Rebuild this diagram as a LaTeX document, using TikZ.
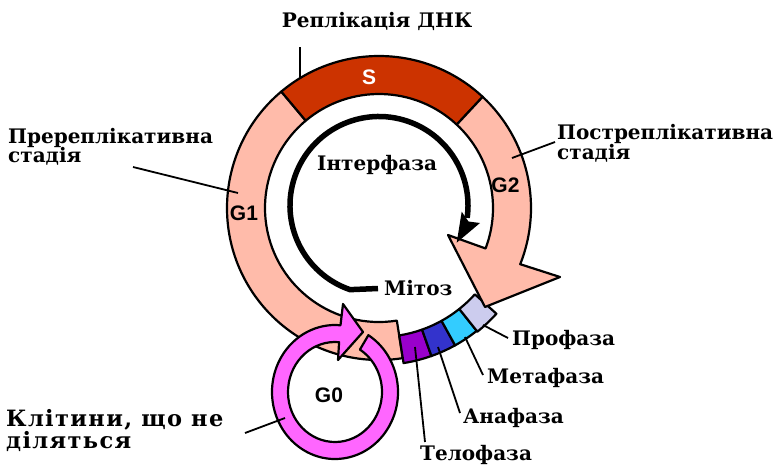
\documentclass[tikz,border=0pt]{standalone}
\usepackage{fontspec}
\setmainfont{DejaVu Serif}
\newfontfamily\gsans{Liberation Sans}
\newfontfamily\widefont[LetterSpace=6]{DejaVu Serif}
\usetikzlibrary{calc}
\definecolor{peach}{HTML}{FFBBAA}
\definecolor{sred}{HTML}{CC3300}
\definecolor{telo}{HTML}{9900CC}
\definecolor{ana}{HTML}{3333CC}
\definecolor{meta}{HTML}{33CCFF}
\definecolor{pro}{HTML}{CCCCEE}
\definecolor{gzero}{HTML}{FF66FF}
\newcommand\ringband[6]{%
  \path[band, fill=#6] ($(#1)+(#2:#5)$) arc[start angle=#2, end angle=#3, radius=#5]
    -- ($(#1)+(#3:#4)$) arc[start angle=#3, end angle=#2, radius=#4] -- cycle;}
\begin{document}
\begin{tikzpicture}[x=1pt,y=1pt,
  band/.style={draw=black, line width=2.2pt, line join=round},
  lbl/.style={font=\fontsize{20}{20}\selectfont\bfseries, inner sep=0pt, anchor=base west},
  widelbl/.style={font=\widefont\fontsize{22.5}{22.5}\selectfont\bfseries, inner sep=0pt, anchor=base west},
  glbl/.style={font=\gsans\fontsize{21}{21}\selectfont\bfseries, inner sep=0pt},
  leader/.style={draw=black, line width=1.8pt}]
\fill[white] (0,0) rectangle (776,-466);
\useasboundingbox (0,0) rectangle (776,-466);
\coordinate (O) at (379,-208);
\coordinate (C2) at (379,-205.5);
\coordinate (G) at (335,-392);
% G1 and S
\ringband{O}{130}{279}{114}{152}{peach}
\ringband{O}{47}{130}{114}{152}{sred}
% mitosis
\ringband{O}{-81}{-70.5}{129}{157}{telo}
\ringband{O}{-70.5}{-61}{129}{157}{ana}
\ringband{O}{-61}{-51.5}{129}{157}{meta}
\ringband{O}{-51.5}{-42}{129}{158}{pro}
% G2 arrow
\path[band, fill=peach] ($(O)+(47:152)$) arc[start angle=47, end angle=-21.7, radius=152]
  -- (560,-277) -- (485,-307) -- (448,-235) -- ($(O)+(-20.8:114)$)
  arc[start angle=-20.8, end angle=47, radius=114] -- cycle;
% G0 ring arrow
\path[band, fill=gzero] ($(G)+({63*cos(58)},{67*sin(58)})$)
  arc[start angle=58, end angle=-275, x radius=63, y radius=67]
  -- (343,-304) -- (363,-332) -- (338,-360) -- ($(G)+({47*cos(85)},{50*sin(85)})$)
  arc[start angle=-275, end angle=58, x radius=47, y radius=50] -- cycle;
% interphase arrow
\draw[line width=5.5pt] (378,-288.5) -- ($(C2)+(251:89)$) arc[start angle=251, end angle=-8, radius=89];
\fill (461.7,-211.7) -- (456.7,-242.7) -- (480,-223) -- (468.5,-221.5) -- cycle;
% band labels
\node[glbl] (g1) at (244,-213.5) {G1};
\node[glbl] (g2) at (505.5,-185) {G2};
\node[glbl, text=white] (s) at (369,-77) {S};
\node[glbl] (g0) at (329,-395) {G0};
% text labels
\node[lbl, anchor=base] (repl) at (377,-27) {Реплікація ДНК};
\node[lbl] (pre1) at (8,-143) {Пререплікативна};
\node[lbl] (pre2) at (8,-162) {стадія};
\node[lbl] (post1) at (557,-139) {Постреплікативна};
\node[lbl] (post2) at (557,-159) {стадія};
\node[lbl] (inter) at (317,-170) {Інтерфаза};
\node[lbl] (mit) at (384,-295) {Мітоз};
\node[lbl] (prof) at (512,-345) {Профаза};
\node[lbl] (metf) at (487,-383) {Метафаза};
\node[lbl] (anaf) at (463,-423) {Анафаза};
\node[lbl] (telf) at (420,-460) {Телофаза};
\node[widelbl] (kl1) at (6,-426) {Клітини, що не};
\node[widelbl] (kl2) at (6,-448) {діляться};
% leader lines
\coordinate (eS) at (300,-78);
\coordinate (eG1) at (238,-193);
\coordinate (eG2) at (512,-158);
\coordinate (ePro) at (483,-325);
\coordinate (eMeta) at (465,-337);
\coordinate (eAna) at (438,-347);
\coordinate (eTelo) at (415,-347);
\coordinate (eG0) at (285,-418);
\draw[leader] (300,-47) -- (eS);
\draw[leader] (133,-167) -- (eG1);
\draw[leader] (555,-142) -- (eG2);
\draw[leader] (508,-338) -- (ePro);
\draw[leader] (483,-375) -- (eMeta);
\draw[leader] (460,-413) -- (eAna);
\draw[leader] (425,-442) -- (eTelo);
\draw[leader] (245,-433) -- (eG0);
\end{tikzpicture}
\end{document}
